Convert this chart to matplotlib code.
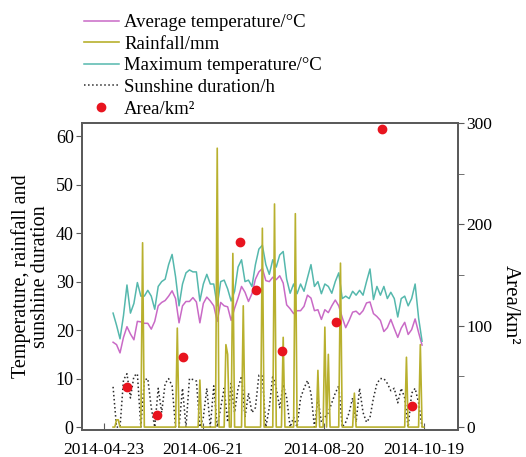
import matplotlib
matplotlib.use('Agg')
import matplotlib.pyplot as plt
import numpy as np

plt.rcParams['font.family'] = ['Liberation Serif', 'DejaVu Serif']

# x positions: day offsets from start of record
days = np.arange(0, 180, 2)          # temperature / sunshine readings (every 2 days)
rain_days = np.arange(0, 180)        # daily rainfall

avg_temp = [17.5, 17.0, 15.3, 18.5, 20.7, 19.2, 18.0, 21.8, 21.7, 21.4,
            21.4, 20.2, 21.8, 25.0, 25.7, 26.1, 27.0, 28.1, 26.5, 21.5,
            25.0, 25.9, 25.9, 26.7, 25.8, 21.5, 25.5, 26.8, 26.0, 25.0,
            21.8, 25.7, 25.0, 24.8, 22.0, 24.5, 26.6, 29.0, 27.8, 25.9,
            27.5, 30.5, 32.0, 32.7, 30.2, 30.0, 30.9, 30.4, 31.2, 29.7,
            25.2, 24.4, 23.4, 24.0, 24.0, 24.9, 27.2, 26.6, 24.0, 24.2,
            22.2, 24.2, 23.6, 25.0, 26.2, 25.0, 22.6, 20.5, 22.0, 23.7,
            23.9, 23.2, 24.0, 25.6, 25.8, 23.4, 22.8, 22.0, 19.7, 20.5,
            22.2, 20.3, 18.5, 20.4, 21.6, 19.1, 20.1, 22.3, 19.5, 16.9]

max_temp = [23.5, 21.0, 18.2, 23.0, 29.3, 23.5, 25.5, 29.8, 27.0, 27.0,
            28.2, 27.0, 24.3, 29.0, 30.0, 30.5, 33.5, 35.6, 31.0, 25.0,
            29.5, 31.8, 32.4, 32.0, 32.0, 26.0, 29.5, 31.5, 29.5, 29.5,
            25.0, 30.0, 30.3, 28.5, 26.0, 28.0, 33.0, 34.5, 30.0, 30.3,
            29.0, 33.5, 36.7, 37.5, 33.5, 31.5, 34.5, 33.0, 35.5, 36.2,
            30.5, 27.6, 29.5, 27.5, 29.5, 28.0, 30.8, 33.5, 29.0, 30.0,
            27.5, 29.5, 29.0, 27.6, 30.0, 31.8, 26.5, 27.0, 26.5, 28.0,
            27.2, 28.2, 27.2, 30.0, 32.6, 26.3, 29.0, 27.2, 29.0, 26.5,
            27.8, 26.5, 22.7, 26.5, 27.0, 25.0, 26.5, 29.5, 22.5, 17.7]

rainfall = [0, 0, 1.5, 1.5, 0, 0, 0, 0, 0, 0,
            0, 0, 0, 0, 0, 0, 0, 38.0, 0, 0,
            0, 0, 0, 0, 0, 0, 0, 0, 0, 0,
            0, 0, 0, 0, 0, 0, 0, 20.4, 0, 0,
            0, 0, 0, 0, 0, 0, 0, 0, 0, 0,
            9.7, 0, 0, 0, 0, 0, 0, 0, 0, 0,
            57.5, 0, 0, 0, 0, 17.0, 15.0, 0, 0, 35.8,
            0, 0, 0, 0, 0, 25.0, 0, 0, 0, 0,
            0, 0, 0, 0, 0, 0, 41.0, 0, 0, 0,
            0, 0, 0, 46.0, 0, 0, 0, 0, 18.5, 0,
            0, 0, 0, 0, 0, 44.0, 0, 0, 0, 0,
            0, 0, 0, 0, 0, 0, 0, 0, 11.7, 0,
            0, 0, 20.6, 0, 15.0, 0, 0, 0, 0, 0,
            0, 33.8, 0, 0, 0, 0, 0, 0, 0, 7.0,
            0, 0, 0, 0, 0, 0, 0, 0, 0, 0,
            0, 0, 0, 0, 0, 0, 0, 0, 0, 0,
            0, 0, 0, 0, 0, 0, 0, 0, 0, 14.4,
            0, 0, 0, 0, 0, 0, 0, 17.0, 0, 0]

sunshine = [8.3, 0, 0, 9.7, 11.0, 6.0, 10.5, 11.0, 0, 9.7,
            10.0, 4.0, 0, 8.0, 3.0, 9.0, 10.0, 8.5, 0, 0,
            8.0, 0, 10.0, 9.8, 9.5, 0, 2.0, 8.0, 0, 8.5,
            0, 4.0, 8.0, 1.0, 9.0, 3.0, 8.0, 10.5, 2.0, 7.0,
            3.0, 4.0, 10.7, 10.5, 0, 4.0, 10.7, 8.0, 4.0, 8.8,
            6.0, 0, 2.0, 0, 6.0, 8.0, 9.6, 7.0, 0, 6.0,
            1.0, 2.0, 3.0, 5.0, 7.0, 8.5, 0, 1.0, 3.0, 6.0,
            1.0, 8.0, 3.0, 1.0, 2.0, 6.0, 9.0, 10.0, 10.0, 9.0,
            7.5, 8.0, 5.0, 8.0, 6.0, 0, 7.0, 8.0, 5.0, 0]

area_days = [8, 25.5, 40.5, 73.3, 82.4, 97.5, 128.6, 155.1, 172.4]
area_km2 = [39.3, 12.2, 68.6, 183.0, 135.3, 75.2, 104.0, 294.0, 20.5]

tick_days = [-5.2, 51.8, 121.5, 179.1]
tick_labels = ['2014-04-23', '2014-06-21', '2014-08-20', '2014-10-19']

c_avg = '#c96ac6'
c_rain = '#b8b02e'
c_max = '#55b8ad'
c_sun = '#2a2a2a'
c_area = '#e8141f'
spine_c = '#5a5a5a'

fig = plt.figure(figsize=(5.26, 4.57), dpi=100)
ax = fig.add_axes([82/526, 1-430/457, (458-82)/526, (430-123)/457])
ax2 = ax.twinx()

l1, = ax.plot(days, avg_temp, color=c_avg, lw=1.1, zorder=3, label='Average temperature/°C')
l3, = ax.plot(days, max_temp, color=c_max, lw=1.1, zorder=3, label='Maximum temperature/°C')
l4, = ax.plot(days, sunshine, color=c_sun, lw=1.1, ls=':', zorder=2, label='Sunshine duration/h')
l2, = ax.plot(rain_days, rainfall, color=c_rain, lw=1.2, zorder=4, label='Rainfall/mm')
l5, = ax2.plot(area_days, area_km2, 'o', color=c_area, ms=6, mec=c_area, label='Area/km²')

ax.set_xlim(-17.9, 198.7)
ax.set_ylim(-0.6, 62.7)
ax2.set_ylim(-3, 300.1)

ax.set_xticks(tick_days)
ax.set_xticklabels(tick_labels)
ax.set_yticks([0, 10, 20, 30, 40, 50, 60])
ax2.set_yticks([0, 100, 200, 300])
ax2.set_yticks([50, 150, 250], minor=True)

for a in (ax, ax2):
    for s in a.spines.values():
        s.set_color(spine_c)
        s.set_linewidth(1.3)
ax.tick_params(axis='x', direction='in', length=5, color=spine_c, labelsize=12.5, pad=9)
ax.tick_params(axis='y', direction='out', length=4, color=spine_c, labelsize=13, pad=2)
ax2.tick_params(axis='y', which='both', direction='out', length=4, color=spine_c, labelsize=12.5, pad=2)

ax.set_ylabel('Temperature, rainfall and\nsunshine duration', fontsize=14.5, labelpad=4, linespacing=1.0)
ax2.set_ylabel('Area/km²', fontsize=15, rotation=270, va='center', ha='center')
ax2.yaxis.set_label_coords(1.138, 0.407)

handles = [l1, l2, l3, l4, l5]
leg = fig.legend(handles, [h.get_label() for h in handles],
                 loc='upper left', bbox_to_anchor=(84/526, 1-14/457),
                 frameon=False, fontsize=13.5, handlelength=1.85,
                 handletextpad=0.3, labelspacing=0.24, borderpad=0,
                 borderaxespad=0)

fig.savefig('out.png', dpi=100)
